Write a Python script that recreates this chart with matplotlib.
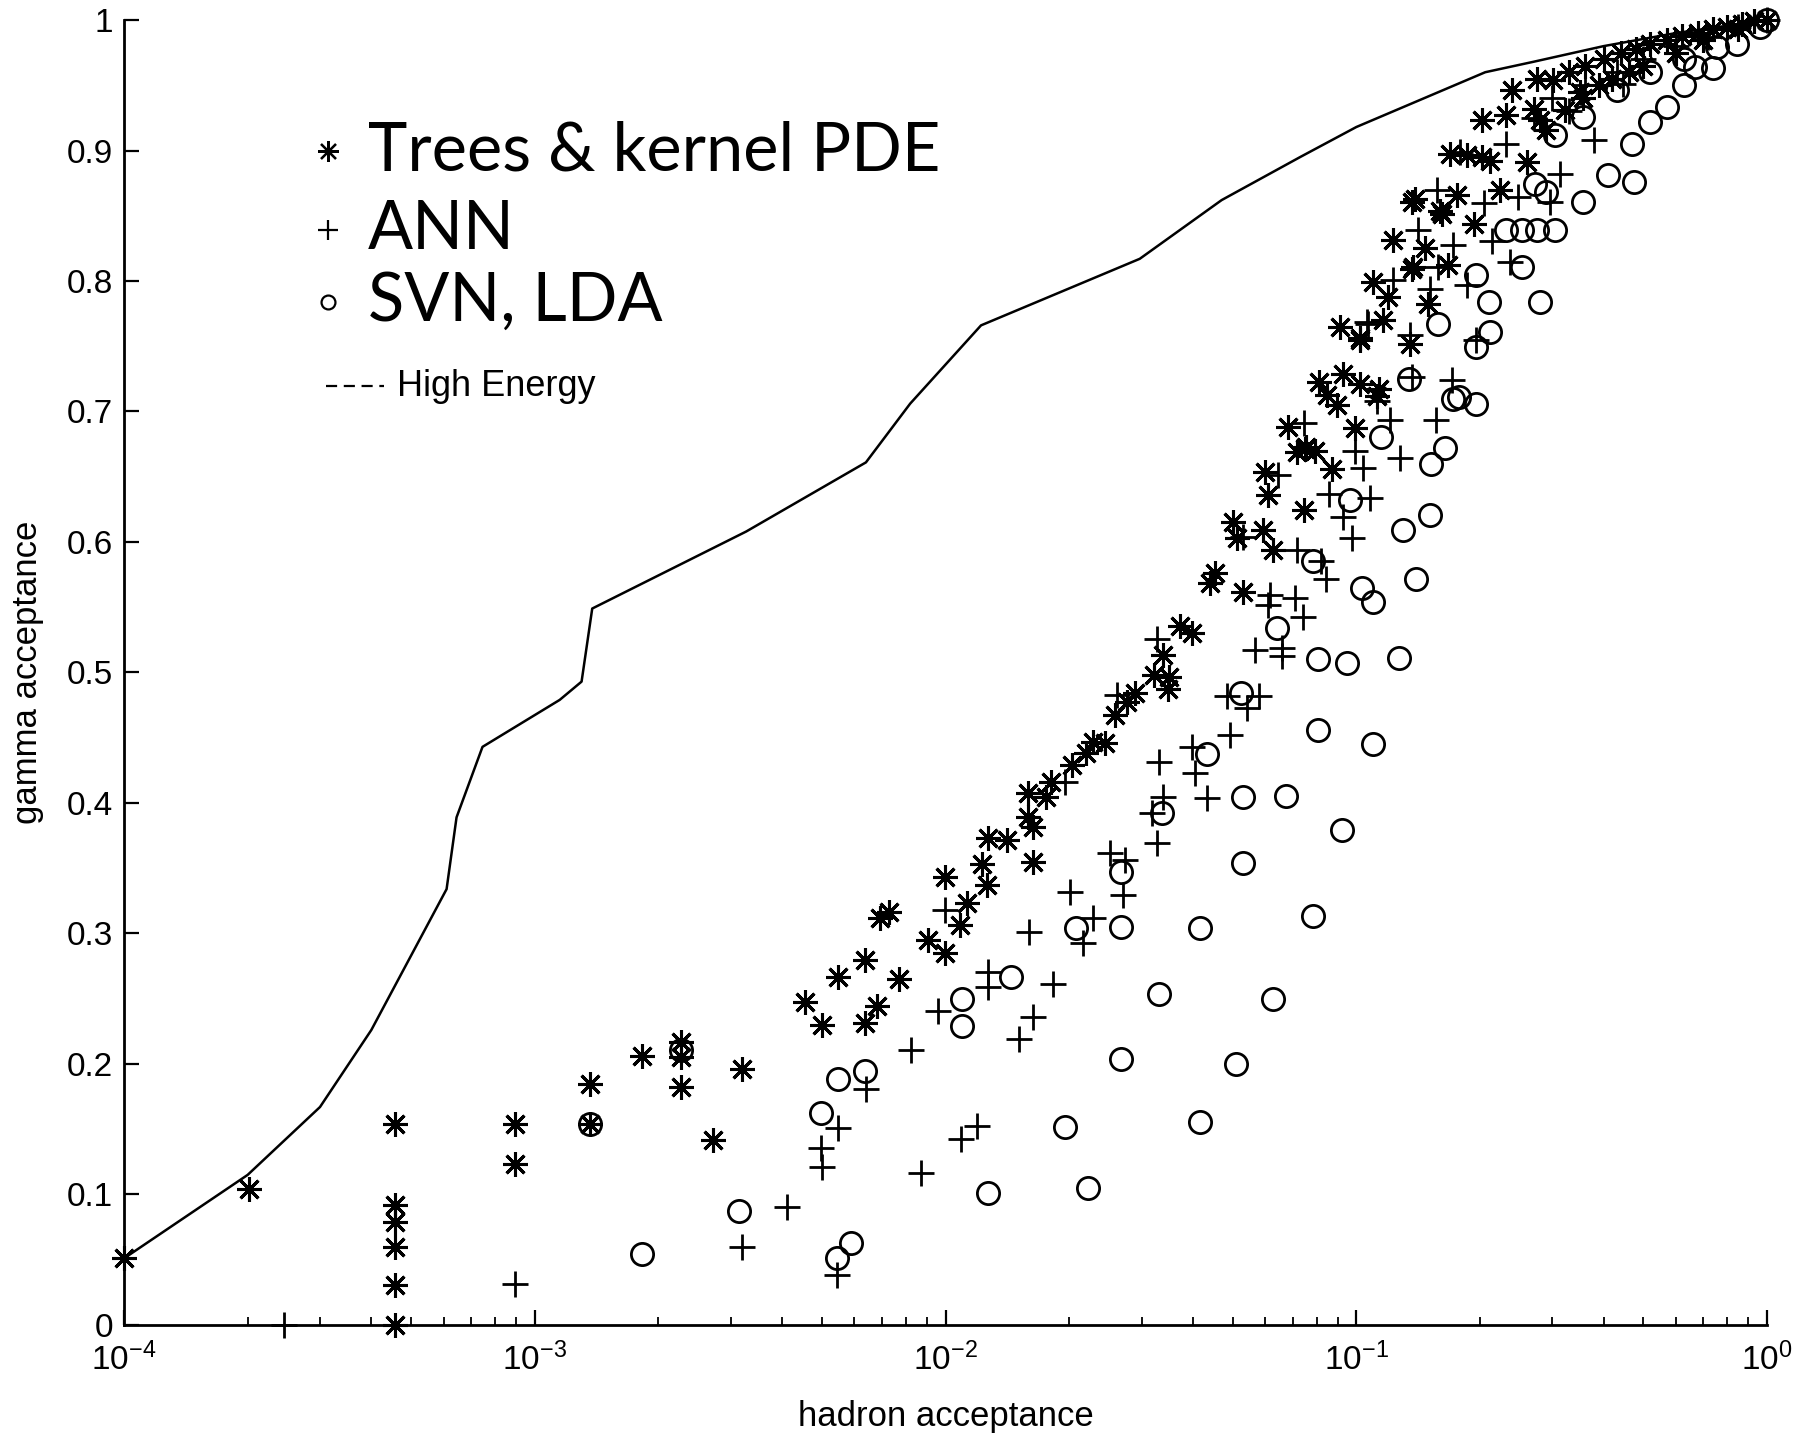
import matplotlib
matplotlib.use("Agg")
import matplotlib.pyplot as plt
from matplotlib.ticker import FixedLocator, LogLocator, NullFormatter

# Courbe "High Energy" (trait continu)
line_x = [1e-4, 2e-4, 3e-4, 4e-4, 6.1e-4, 6.45e-4, 7.46e-4, 1.15e-3, 1.3e-3, 1.38e-3,
          3.27e-3, 6.4e-3, 8.2e-3, 1.22e-2, 2.97e-2, 4.7e-2, 7.3e-2, 0.1, 0.206, 0.27,
          0.4, 0.6, 1.0]
line_y = [0.051, 0.115, 0.167, 0.226, 0.334, 0.389, 0.443, 0.479, 0.493, 0.549,
          0.608, 0.661, 0.706, 0.766, 0.817, 0.862, 0.895, 0.918, 0.960, 0.968,
          0.98, 0.99, 1.0]

# Trees & kernel PDE (*)
trees_x = [1e-4, 2.02e-4, 4.56e-4, 4.56e-4, 4.56e-4, 4.56e-4, 4.56e-4, 4.56e-4,
           8.97e-4, 8.97e-4, 1.365e-3, 1.365e-3, 1.825e-3, 2.27e-3, 2.27e-3, 2.27e-3,
           2.72e-3, 3.2e-3, 4.55e-3, 4.99e-3, 5.46e-3, 6.37e-3, 6.37e-3, 6.82e-3,
           6.93e-3, 7.29e-3, 7.71e-3, 9.07e-3, 9.97e-3,
           9.97e-3, 0.01125, 0.01084, 0.01224, 0.0126, 0.0127, 0.0141, 0.0159, 0.0159,
           0.0163, 0.0163, 0.0176, 0.0181, 0.0203, 0.0220, 0.0229, 0.0244, 0.0258,
           0.0276, 0.0289, 0.0321, 0.0349, 0.0347, 0.0339, 0.0372, 0.0397,
           0.0453, 0.044, 0.0529, 0.05, 0.0512, 0.0594, 0.0628, 0.0598, 0.0611, 0.0683,
           0.0716, 0.0755, 0.0794, 0.0871, 0.0746, 0.075,
           0.0809, 0.093, 0.102, 0.1137, 0.0847, 0.0896, 0.1125, 0.0993,
           0.0913, 0.102, 0.1164, 0.135, 0.1365, 0.123, 0.11, 0.1197, 0.1497, 0.147,
           0.1377, 0.1675, 0.102,
           0.1365, 0.16, 0.139, 0.176, 0.1615, 0.193, 0.224, 0.169, 0.186, 0.202, 0.211,
           0.26, 0.202, 0.232, 0.27, 0.28, 0.29, 0.322, 0.357, 0.239, 0.275, 0.301,
           0.33, 0.36, 0.40, 0.44, 0.48, 0.52, 0.57, 0.62, 0.68, 0.74, 0.80, 0.87, 0.93,
           1.0, 0.35, 0.42, 0.5, 0.6, 0.7, 0.85, 0.39, 0.46]
trees_y = [0.051, 0.104, 0.154, 0.092, 0.079, 0.060, 0.0305, 0.0,
           0.154, 0.123, 0.185, 0.154, 0.206, 0.217, 0.205, 0.1825,
           0.142, 0.1965, 0.2476, 0.2297, 0.2663, 0.280, 0.2315, 0.2443,
           0.3115, 0.3165, 0.265, 0.2948, 0.2847,
           0.3435, 0.323, 0.3064, 0.3536, 0.337, 0.3729, 0.3716, 0.4073, 0.3894,
           0.3818, 0.355, 0.4047, 0.4162, 0.429, 0.438, 0.447, 0.4456, 0.4673,
           0.4775, 0.484, 0.498, 0.4967, 0.4877, 0.5132, 0.536, 0.530,
           0.5759, 0.5683, 0.5617, 0.6155, 0.6027, 0.609, 0.5937, 0.6537, 0.6358, 0.688,
           0.669, 0.673, 0.670, 0.656, 0.6243, 0.6716,
           0.7227, 0.729, 0.7214, 0.717, 0.7125, 0.7049, 0.712, 0.687,
           0.765, 0.756, 0.770, 0.752, 0.8095, 0.8311, 0.7993, 0.7878, 0.7827, 0.825,
           0.8107, 0.812, 0.7546,
           0.8606, 0.854, 0.8631, 0.8657, 0.8517, 0.844, 0.8695, 0.8977, 0.8964, 0.895,
           0.892, 0.891, 0.923, 0.927, 0.932, 0.923, 0.9155, 0.931, 0.94, 0.946, 0.955,
           0.9537, 0.96, 0.965, 0.97, 0.975, 0.978, 0.982, 0.985, 0.988, 0.99, 0.993,
           0.995, 0.997, 0.999, 1.0, 0.945, 0.955, 0.965, 0.975, 0.985, 0.993, 0.95, 0.96]

# ANN (+)
ann_x = [2.45e-4, 8.97e-4, 3.2e-3, 4.12e-3, 5.45e-3, 4.97e-3, 5.01e-3, 5.48e-3, 6.4e-3,
         8.22e-3, 8.69e-3, 9.6e-3, 9.97e-3,
         0.0109, 0.0119, 0.0127, 0.0127, 0.0151, 0.0163, 0.0183, 0.016, 0.0201, 0.0216,
         0.0229, 0.0195, 0.0251, 0.0273, 0.0271, 0.0261, 0.0318, 0.0327, 0.0339, 0.033,
         0.0405, 0.0397, 0.0434, 0.0492, 0.0543, 0.0484, 0.0578, 0.0327, 0.0567, 0.0658,
         0.0658, 0.061, 0.0743,
         0.0531, 0.0617, 0.071, 0.0716, 0.0844, 0.082, 0.0975, 0.0927, 0.086, 0.108,
         0.0646, 0.0746, 0.0993, 0.1037, 0.1277, 0.1205, 0.1563, 0.1125, 0.137, 0.1707,
         0.107, 0.135, 0.196, 0.106, 0.123, 0.151, 0.186, 0.1585, 0.237, 0.172, 0.214,
         0.1416, 0.157, 0.204, 0.248, 0.296, 0.179, 0.232, 0.313, 0.378, 0.447,
         0.30, 0.36, 0.43, 0.5, 0.6, 0.72, 0.85, 1.0, 0.27, 0.33]
ann_y = [0.0, 0.031, 0.060, 0.0907, 0.0384, 0.1353, 0.1208, 0.1507, 0.1806,
         0.2107, 0.1162, 0.2408, 0.318,
         0.1423, 0.1524, 0.2707, 0.2593, 0.2189, 0.2357, 0.2613, 0.3014, 0.332, 0.2925,
         0.3116, 0.416, 0.3614, 0.356, 0.3294, 0.4826, 0.392, 0.3695, 0.4047, 0.4315,
         0.4226, 0.443, 0.4035, 0.452, 0.4724, 0.482, 0.482, 0.526, 0.5176, 0.5185,
         0.5126, 0.5515, 0.5426,
         0.604, 0.559, 0.5567, 0.5937, 0.572, 0.5855, 0.6027, 0.619, 0.637, 0.6334,
         0.651, 0.6912, 0.670, 0.657, 0.664, 0.6933, 0.6938, 0.708, 0.7265, 0.724,
         0.767, 0.7584, 0.755, 0.7686, 0.8006, 0.794, 0.7967, 0.811, 0.8146, 0.8274, 0.831,
         0.839, 0.8695, 0.8594, 0.8644, 0.8606, 0.899, 0.905, 0.8822, 0.9078, 0.951,
         0.94, 0.95, 0.96, 0.97, 0.98, 0.987, 0.995, 1.0, 0.925, 0.93]

# SVN, LDA (o)
svn_x = [1.365e-3, 1.825e-3, 2.27e-3, 3.15e-3, 4.97e-3, 5.43e-3, 5.9e-3, 5.46e-3, 6.37e-3,
         0.01095, 0.01095, 0.0127, 0.0144, 0.0195, 0.0222, 0.0208, 0.0267, 0.0268, 0.0267,
         0.033, 0.0336, 0.0416, 0.0416, 0.0509, 0.0628,
         0.0434, 0.0523, 0.0529, 0.0529, 0.0674, 0.0786, 0.0805, 0.0925, 0.110,
         0.064, 0.0805, 0.0951, 0.127, 0.110, 0.0783, 0.103, 0.1396, 0.0966, 0.1297,
         0.151, 0.1148, 0.1518, 0.1644,
         0.1346, 0.1718, 0.178, 0.196, 0.196, 0.1585, 0.212,
         0.196, 0.21, 0.28, 0.253, 0.232, 0.253, 0.275, 0.305, 0.272, 0.29, 0.357, 0.411,
         0.473, 0.305, 0.357, 0.469, 0.431, 0.519, 0.519, 0.57, 0.626, 0.626, 0.668, 0.74,
         0.754, 0.844, 0.962, 1.0]
svn_y = [0.154, 0.0543, 0.211, 0.0873, 0.1621, 0.051, 0.0626, 0.1884, 0.1949,
         0.2494, 0.229, 0.1013, 0.2668, 0.152, 0.1048, 0.304, 0.3052, 0.3473, 0.2035,
         0.2534, 0.392, 0.304, 0.1558, 0.200, 0.2497,
         0.4374, 0.4844, 0.4042, 0.3542, 0.4053, 0.3134, 0.456, 0.3792, 0.4455,
         0.5344, 0.510, 0.5074, 0.5113, 0.554, 0.5855, 0.565, 0.5713, 0.632, 0.609,
         0.6205, 0.6805, 0.6596, 0.6724,
         0.7252, 0.7099, 0.7112, 0.706, 0.7495, 0.767, 0.761,
         0.8044, 0.784, 0.784, 0.8107, 0.839, 0.839, 0.839, 0.839, 0.8746, 0.868, 0.8606,
         0.881, 0.876, 0.912, 0.926, 0.9052, 0.946, 0.922, 0.96, 0.9333, 0.95, 0.97, 0.964,
         0.963, 0.979, 0.982, 0.9946, 1.0]

y_ticks = [0, 0.1, 0.2, 0.3, 0.4, 0.5, 0.6, 0.7, 0.8, 0.9, 1]
y_tick_labels = ["0", "0.1", "0.2", "0.3", "0.4", "0.5", "0.6", "0.7", "0.8", "0.9", "1"]
x_ticks = [1e-4, 1e-3, 1e-2, 1e-1, 1]
x_tick_labels = [r"$10^{-4}$", r"$10^{-3}$", r"$10^{-2}$", r"$10^{-1}$", r"$10^{0}$"]

plt.rcParams["font.family"] = ["Liberation Sans", "DejaVu Sans"]
plt.rcParams["mathtext.default"] = "regular"

fig = plt.figure(figsize=(18.05, 14.4), dpi=100)
ax = fig.add_axes([0.0687, 0.0799, 0.9103, 0.9062])

# courbe puis les trois nuages de points
ax.plot(line_x, line_y, color="black", lw=1.8, zorder=2)
ax.plot(trees_x, trees_y, linestyle="none", marker=(8, 2, 0), ms=18, mew=2.2,
        color="black", clip_on=False, zorder=3)
ax.plot(ann_x, ann_y, linestyle="none", marker="+", ms=19, mew=2.0,
        color="black", clip_on=False, zorder=3)
ax.plot(svn_x, svn_y, linestyle="none", marker="o", ms=16, mew=2.0,
        mfc="none", mec="black", clip_on=False, zorder=3)

ax.set_xscale("log")
ax.set_xlim(1e-4, 1)
ax.set_ylim(0, 1)

ax.yaxis.set_major_locator(FixedLocator(y_ticks))
ax.set_yticklabels(y_tick_labels)
ax.xaxis.set_major_locator(FixedLocator(x_ticks))
ax.set_xticklabels(x_tick_labels)
ax.xaxis.set_minor_locator(LogLocator(base=10, subs=range(2, 10)))
ax.xaxis.set_minor_formatter(NullFormatter())

for side in ["top", "right"]:
    ax.spines[side].set_visible(False)
for side in ["left", "bottom"]:
    ax.spines[side].set_linewidth(2.0)

ax.tick_params(axis="both", which="major", direction="in", length=11, width=1.6,
               labelsize=24)
ax.tick_params(axis="y", which="major", pad=8)
ax.tick_params(axis="x", which="major", pad=13)
ax.tick_params(axis="x", which="minor", direction="in", length=6, width=1.3)

ax.set_xlabel("hadron acceptance", fontsize=25, labelpad=16)
ax.set_ylabel("gamma acceptance", fontsize=25, labelpad=16)

# légende faite à la main (comme sur la figure d'origine)
leg_font = ["Lato", "DejaVu Sans"]
leg_items = [("Trees & kernel PDE", (8, 2, 0), 15, 0.8996),
             ("ANN", "+", 15, 0.839),
             ("SVN, LDA", "o", 10, 0.784)]
for label, mk, size, ypos in leg_items:
    ax.plot([0.124], [ypos], transform=ax.transAxes, linestyle="none", marker=mk,
            ms=size, mew=1.6, color="black", mfc="none" if mk == "o" else "black")
    ax.text(0.1485, ypos, label, transform=ax.transAxes, fontsize=48,
            family=leg_font, va="center", ha="left")

ax.plot([0.123, 0.158], [0.7195, 0.7195], transform=ax.transAxes, color="black",
        lw=1.6, dashes=(5, 3))
ax.text(0.166, 0.7195, "High Energy", transform=ax.transAxes, fontsize=26,
        va="center", ha="left")

fig.savefig("out.png", dpi=100)
